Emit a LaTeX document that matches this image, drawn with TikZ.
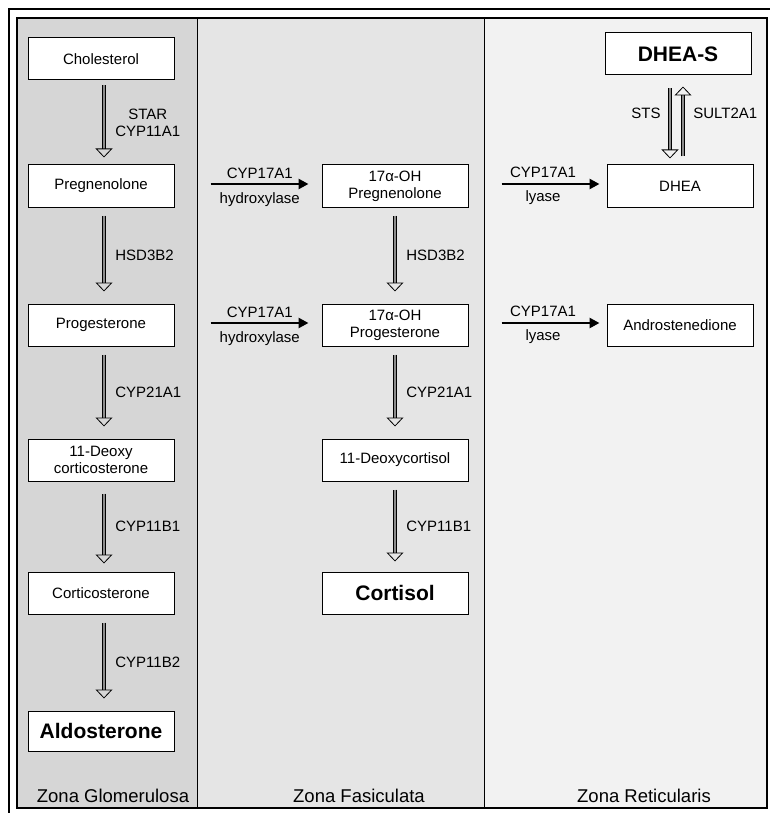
\documentclass[tikz,border=0pt]{standalone}
\usepackage{fontspec}
\setmainfont{Liberation Sans}
\usetikzlibrary{positioning,arrows.meta}
\tikzset{compound/.style={draw=black, fill=white, line width=1pt, minimum width=146pt, minimum height=42pt, align=center, inner sep=2pt, font=\fontsize{15}{17}\selectfont},
  product/.style={compound, font=\fontsize{21}{24}\selectfont\bfseries},
  enzyme/.style={inner sep=1pt, align=center, font=\fontsize{15}{17}\selectfont},
  zonelabel/.style={inner sep=0pt, anchor=base, font=\fontsize{18.5}{20}\selectfont},
  convert/.style={line width=0.8pt, double=black!45, double distance=2.6pt, shorten <=8pt, shorten >=12pt, -{Triangle[open, width=17pt, length=9pt, line width=0.8pt]}},
  cyp/.style={line width=2.6pt, -{Triangle[width=10pt, length=10pt]}},
}

\begin{document}
\begin{tikzpicture}[x=1pt, y=-1pt]
\useasboundingbox (0,0) rectangle (770,813);
% zones
\fill[black!16] (17,18) rectangle (197,808);
\fill[black!10] (197,18) rectangle (484,808);
\fill[black!5] (484,18) rectangle (767,808);
\draw[line width=1.2pt] (17,18) rectangle (767,808);
\draw[line width=1pt] (197,18) -- (197,808);
\draw[line width=1pt] (484,18) -- (484,808);
\draw[line width=1.4pt] (9,813) -- (9,9) -- (770,9);

% zona glomerulosa
\node [compound] (chol) at (101,59) {Cholesterol};
\node [compound] (preg) [below=84pt of chol] {Pregnenolone};
\node [compound] (prog) [below=96pt of preg] {Progesterone};
\node [compound] (doc) [below=92pt of prog] {11-Deoxy\\corticosterone};
\node [compound] (cort) [below=90pt of doc] {Corticosterone};
\node [product, minimum height=40pt] (aldo) [below=96pt of cort] {Aldosterone};

% zona fasiculata
\node [compound] (ohpreg) [right=147pt of preg] {17α-OH\\Pregnenolone};
\node [compound] (ohprog) [right=147pt of prog] {17α-OH\\Progesterone};
\node [compound] (doxc) [below=92pt of ohprog] {11-Deoxycortisol};
\node [product] (cortisol) [below=90pt of doxc] {Cortisol};

% zona reticularis
\node [compound] (dhea) [right=138pt of ohpreg] {DHEA};
\node [compound] (andro) [right=138pt of ohprog] {Androstenedione};
\node [product] (dheas) [above=89pt of dhea, xshift=-2pt] {DHEA-S};

\draw[convert, shorten <=5pt, shorten >=7pt] ([xshift=3pt]chol.south) -- ([xshift=3pt]preg.north) node[enzyme, midway, right=10pt] {STAR\\CYP11A1};
\draw[convert] ([xshift=3pt]preg.south) -- ([xshift=3pt]prog.north) node[enzyme, midway, right=10pt] {HSD3B2};
\draw[convert] ([xshift=3pt]prog.south) -- ([xshift=3pt]doc.north) node[enzyme, midway, right=10pt] {CYP21A1};
\draw[convert, shorten <=12pt, shorten >=8pt] ([xshift=3pt]doc.south) -- ([xshift=3pt]cort.north) node[enzyme, midway, right=10pt] {CYP11B1};
\draw[convert] ([xshift=3pt]cort.south) -- ([xshift=3pt]aldo.north) node[enzyme, midway, right=10pt] {CYP11B2};

\draw[convert] (ohpreg) -- (ohprog) node[enzyme, midway, right=10pt] {HSD3B2};
\draw[convert] (ohprog) -- (doxc) node[enzyme, midway, right=10pt] {CYP21A1};
\draw[convert, shorten >=10pt] (doxc) -- (cortisol) node[enzyme, midway, right=10pt] {CYP11B1};

\draw[convert, shorten <=13pt, shorten >=6pt] ([xshift=-8pt]dheas.south) -- ([xshift=-10pt]dhea.north) node[enzyme, pos=0.42, left=8pt] {STS};
\draw[convert, shorten <=8pt, shorten >=11pt] ([xshift=3pt]dhea.north) -- ([xshift=5pt]dheas.south) node[enzyme, pos=0.58, right=9pt] {SULT2A1};

\draw[cyp, shorten <=36pt, shorten >=13pt] ([yshift=2pt]preg.east) -- ([yshift=2pt]ohpreg.west) node[enzyme, pos=0.58, above=3pt] {CYP17A1} node[enzyme, pos=0.58, below=6pt] {hydroxylase};
\draw[cyp, shorten <=36pt, shorten >=13pt] ([yshift=2pt]prog.east) -- ([yshift=2pt]ohprog.west) node[enzyme, pos=0.58, above=3pt] {CYP17A1} node[enzyme, pos=0.58, below=6pt] {hydroxylase};
\draw[cyp, shorten <=33pt, shorten >=7pt] ([yshift=2pt]ohpreg.east) -- ([yshift=2pt]dhea.west) node[enzyme, pos=0.54, above=4pt] {CYP17A1} node[enzyme, pos=0.54, below=4pt] {lyase};
\draw[cyp, shorten <=33pt, shorten >=7pt] ([yshift=2pt]ohprog.east) -- ([yshift=2pt]andro.west) node[enzyme, pos=0.54, above=4pt] {CYP17A1} node[enzyme, pos=0.54, below=4pt] {lyase};

\node [zonelabel] (zg) at (113,802) {Zona Glomerulosa};
\node [zonelabel] (zf) at (359,802) {Zona Fasiculata};
\node [zonelabel] (zr) at (644,802) {Zona Reticularis};
\end{tikzpicture}
\end{document}
